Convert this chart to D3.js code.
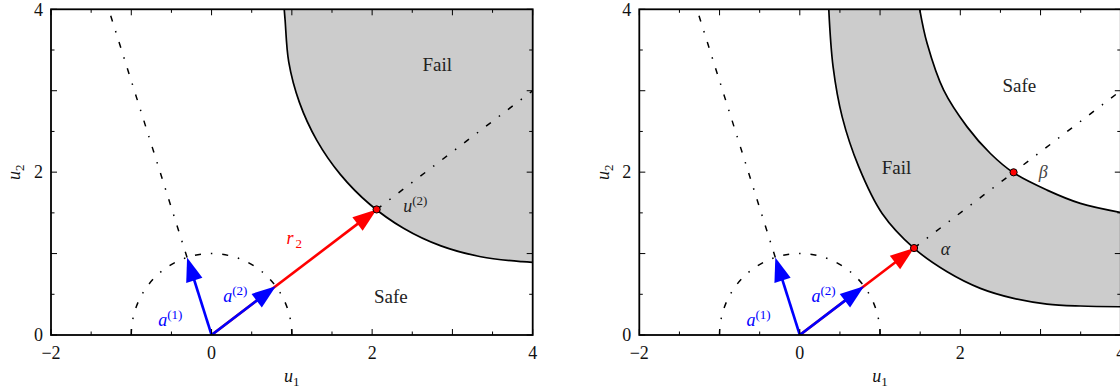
<!DOCTYPE html>
<html>
<head>
<meta charset="utf-8">
<script src="https://cdn.jsdelivr.net/npm/d3@7"></script>
<style>
  html, body { margin: 0; padding: 0; background: #fff; overflow: hidden; }
  svg { display: block; }
</style>
</head>
<body>
<svg id="chart" width="1120" height="392"></svg>
<script>
// ----------------------------------------------------------
// Data (standard normal space u1, u2)
// ----------------------------------------------------------
const X_DOMAIN = [-2, 4];
const Y_DOMAIN = [0, 4];
const xTickLabels = [-2, 0, 2, 4];
const yTickLabels = [0, 2, 4];

// search directions (unit vectors)
const dirA1 = [-0.305, 0.952];
const dirA2 = [0.8, 0.6];
const rayLength = 5;

// distances along a(2) to the limit state surface
const leftMppDistance = 2.57;   // u(2)
const alphaDistance = 1.78;
const betaDistance = 3.33;

// limit state curves
const leftBoundary = [
  [0.905, 4.0], [0.916, 3.866], [0.961, 3.354], [1.094, 2.857], [1.311, 2.391],
  [1.606, 1.970], [1.970, 1.606], [2.391, 1.311], [2.857, 1.094], [3.354, 0.961],
  [3.866, 0.900], [4.0, 0.893]
];
const rightOuterBoundary = [
  [0.361, 4.0], [0.415, 3.292], [0.528, 2.679], [0.735, 2.065], [1.026, 1.493],
  [1.425, 1.064], [1.836, 0.777], [2.25, 0.573], [2.665, 0.45], [3.081, 0.38],
  [3.496, 0.356], [4.0, 0.347]
];
const rightInnerBoundary = [
  [1.494, 4.0], [1.587, 3.579], [1.793, 3.006], [2.085, 2.556], [2.375, 2.229],
  [2.665, 1.991], [3.081, 1.779], [3.496, 1.616], [4.0, 1.505]
];

// text positions (data coords)
const leftLabels = [
  { text: 'Fail', at: [2.81, 3.32] },
  { text: 'Safe', at: [2.234, 0.479] }
];
const rightLabels = [
  { text: 'Fail', at: [1.204, 2.06] },
  { text: 'Safe', at: [2.736, 3.067] }
];

// ----------------------------------------------------------
// Styles
// ----------------------------------------------------------
const FONT = '"Liberation Serif", "DejaVu Serif", serif';
const BLUE = '#0000ff';
const RED = '#ff0000';
const FILL = '#cccccc';
const DASHDOT = '6,10,1.5,10';

const svg = d3.select('#chart').attr('font-family', FONT);

function scaled(v, d) { return [v[0] * d, v[1] * d]; }

function drawArrow(g, x, y, from, to, color) {
  const x0 = x(from[0]), y0 = y(from[1]);
  const x1 = x(to[0]), y1 = y(to[1]);
  const len = Math.hypot(x1 - x0, y1 - y0);
  const ux = (x1 - x0) / len, uy = (y1 - y0) / len;
  const headLen = 24, half = 8.5;
  const bx = x1 - ux * headLen, by = y1 - uy * headLen;
  g.append('line')
    .attr('x1', x0).attr('y1', y0)
    .attr('x2', bx + ux * 3).attr('y2', by + uy * 3)
    .attr('stroke', color).attr('stroke-width', 2.6);
  g.append('path')
    .attr('d', 'M' + x1 + ',' + y1 +
      'L' + (bx - uy * half) + ',' + (by + ux * half) +
      'L' + (bx + uy * half) + ',' + (by - ux * half) + 'Z')
    .attr('fill', color);
}

function mathLabel(g, x, y, pos, base, sup, sub, color) {
  const t = g.append('text')
    .attr('x', x(pos[0])).attr('y', y(pos[1]))
    .attr('dy', '0.35em')
    .attr('text-anchor', 'middle')
    .attr('fill', color)
    .attr('font-size', 18);
  t.append('tspan').attr('font-style', 'italic').text(base);
  if (sup) t.append('tspan').attr('font-size', 13).attr('dy', -7).text(sup);
  if (sub) t.append('tspan').attr('font-size', 13).attr('dx', 2).attr('dy', 4).text(sub);
  return t;
}

function drawPanel(id, left, right, drawContent) {
  const top = 9.3, bottom = 335;
  const x = d3.scaleLinear().domain(X_DOMAIN).range([left, right]);
  const y = d3.scaleLinear().domain(Y_DOMAIN).range([bottom, top]);
  const g = svg.append('g');

  svg.append('clipPath').attr('id', 'clip-' + id)
    .append('rect')
    .attr('x', left).attr('y', top)
    .attr('width', right - left).attr('height', bottom - top);

  const plot = g.append('g').attr('clip-path', 'url(#clip-' + id + ')');
  drawContent(plot, x, y);

  // ticks (inward, all four sides)
  const xMinor = d3.range(X_DOMAIN[0], X_DOMAIN[1] + 0.01, 0.5);
  const yMinor = d3.range(Y_DOMAIN[0], Y_DOMAIN[1] + 0.01, 0.5);
  const tickLen = (v) => (Number.isInteger(v) ? 6 : 3.5);
  const ticks = g.append('g').attr('stroke', '#000').attr('stroke-width', 1);
  xMinor.forEach((v) => {
    ticks.append('line').attr('x1', x(v)).attr('x2', x(v)).attr('y1', bottom).attr('y2', bottom - tickLen(v));
    ticks.append('line').attr('x1', x(v)).attr('x2', x(v)).attr('y1', top).attr('y2', top + tickLen(v));
  });
  yMinor.forEach((v) => {
    ticks.append('line').attr('y1', y(v)).attr('y2', y(v)).attr('x1', left).attr('x2', left + tickLen(v));
    ticks.append('line').attr('y1', y(v)).attr('y2', y(v)).attr('x1', right).attr('x2', right - tickLen(v));
  });

  // frame
  g.append('rect')
    .attr('x', left).attr('y', top)
    .attr('width', right - left).attr('height', bottom - top)
    .attr('fill', 'none').attr('stroke', '#000').attr('stroke-width', 1.8);

  // tick labels
  xTickLabels.forEach((v) => {
    g.append('text')
      .attr('x', x(v)).attr('y', bottom + 18)
      .attr('dy', '0.35em').attr('text-anchor', 'middle')
      .attr('font-size', 18).attr('fill', '#111')
      .text(v < 0 ? '\u2212' + Math.abs(v) : v);
  });
  yTickLabels.forEach((v) => {
    g.append('text')
      .attr('x', left - 8).attr('y', y(v))
      .attr('dy', '0.35em').attr('text-anchor', 'end')
      .attr('font-size', 18).attr('fill', '#111')
      .text(v);
  });

  // axis labels
  const xl = g.append('text')
    .attr('x', (left + right) / 2).attr('y', 376)
    .attr('dy', '0.35em').attr('text-anchor', 'middle')
    .attr('font-size', 18).attr('fill', '#111');
  xl.append('tspan').attr('font-style', 'italic').text('u');
  xl.append('tspan').attr('font-size', 13).attr('dy', 4).text('1');

  const yl = g.append('text')
    .attr('transform', 'translate(' + (left - 37) + ',' + ((top + bottom) / 2) + ') rotate(-90)')
    .attr('dy', '0.35em').attr('text-anchor', 'middle')
    .attr('font-size', 18).attr('fill', '#111');
  yl.append('tspan').attr('font-style', 'italic').text('u');
  yl.append('tspan').attr('font-size', 13).attr('dy', 4).text('2');
}

function drawRays(plot, x, y, boundaryDistance) {
  // unit circle (upper half), dash-dot, through the scales
  const rx = x(1) - x(0), ry = y(0) - y(1);
  plot.append('path')
    .attr('d', 'M' + x(1) + ',' + y(0) + 'A' + rx + ',' + ry + ' 0 0 0 ' + x(-1) + ',' + y(0))
    .attr('fill', 'none').attr('stroke', '#000').attr('stroke-width', 1.5)
    .attr('stroke-dasharray', DASHDOT);

  // search ray a(1)
  const a1Start = dirA1, a1End = scaled(dirA1, rayLength);
  plot.append('line')
    .attr('x1', x(a1Start[0])).attr('y1', y(a1Start[1]))
    .attr('x2', x(a1End[0])).attr('y2', y(a1End[1]))
    .attr('stroke', '#000').attr('stroke-width', 1.5)
    .attr('stroke-dasharray', DASHDOT);

  // search ray a(2) beyond the first crossing
  const a2Start = scaled(dirA2, boundaryDistance), a2End = scaled(dirA2, rayLength);
  plot.append('line')
    .attr('x1', x(a2Start[0])).attr('y1', y(a2Start[1]))
    .attr('x2', x(a2End[0])).attr('y2', y(a2End[1]))
    .attr('stroke', '#000').attr('stroke-width', 1.5)
    .attr('stroke-dasharray', DASHDOT);
}

function drawArrowsAndLabels(plot, x, y, boundaryDistance) {
  drawArrow(plot, x, y, [0, 0], scaled(dirA2, boundaryDistance), RED);
  drawArrow(plot, x, y, [0, 0], dirA1, BLUE);
  drawArrow(plot, x, y, [0, 0], dirA2, BLUE);
  mathLabel(plot, x, y, [-0.514, 0.184], 'a', '(1)', null, BLUE);
  mathLabel(plot, x, y, [0.295, 0.479], 'a', '(2)', null, BLUE);
}

function marker(plot, x, y, p) {
  plot.append('circle')
    .attr('cx', x(p[0])).attr('cy', y(p[1])).attr('r', 3.6)
    .attr('fill', RED).attr('stroke', '#000').attr('stroke-width', 1);
}

function regionLabels(plot, x, y, labels) {
  labels.forEach((l) => {
    plot.append('text')
      .attr('x', x(l.at[0])).attr('y', y(l.at[1]))
      .attr('dy', '0.35em').attr('text-anchor', 'middle')
      .attr('font-size', 19).attr('fill', '#222')
      .text(l.text);
  });
}

// ----------------------------------------------------------
// Left panel: single failure domain
// ----------------------------------------------------------
drawPanel('left', 51, 532.7, (plot, x, y) => {
  const curveLine = d3.line().x((d) => x(d[0])).y((d) => y(d[1])).curve(d3.curveCatmullRom.alpha(0.5));

  plot.append('path')
    .attr('d', curveLine(leftBoundary) + 'L' + x(X_DOMAIN[1]) + ',' + y(Y_DOMAIN[1]) + 'Z')
    .attr('fill', FILL);
  plot.append('path')
    .attr('d', curveLine(leftBoundary))
    .attr('fill', 'none').attr('stroke', '#000').attr('stroke-width', 1.7);

  drawRays(plot, x, y, leftMppDistance);
  drawArrowsAndLabels(plot, x, y, leftMppDistance);
  marker(plot, x, y, scaled(dirA2, leftMppDistance));

  mathLabel(plot, x, y, [1.03, 1.19], 'r', null, '2', RED);
  mathLabel(plot, x, y, [2.537, 1.583], 'u', '(2)', null, '#222');
  regionLabels(plot, x, y, leftLabels);
});

// ----------------------------------------------------------
// Right panel: failure band between two surfaces
// ----------------------------------------------------------
drawPanel('right', 639.3, 1120.8, (plot, x, y) => {
  const curveLine = d3.line().x((d) => x(d[0])).y((d) => y(d[1])).curve(d3.curveCatmullRom.alpha(0.5));

  const band = curveLine(rightOuterBoundary) +
    curveLine(rightInnerBoundary.slice().reverse()).replace(/^M/, 'L') + 'Z';
  plot.append('path').attr('d', band).attr('fill', FILL);
  [rightOuterBoundary, rightInnerBoundary].forEach((b) => {
    plot.append('path')
      .attr('d', curveLine(b))
      .attr('fill', 'none').attr('stroke', '#000').attr('stroke-width', 1.7);
  });

  drawRays(plot, x, y, alphaDistance);
  drawArrowsAndLabels(plot, x, y, alphaDistance);
  marker(plot, x, y, scaled(dirA2, alphaDistance));
  marker(plot, x, y, scaled(dirA2, betaDistance));

  mathLabel(plot, x, y, [1.814, 1.055], '\u03b1', null, null, '#222');
  mathLabel(plot, x, y, [3.035, 2.0], '\u03b2', null, null, '#444');
  regionLabels(plot, x, y, rightLabels);
});
</script>
</body>
</html>
